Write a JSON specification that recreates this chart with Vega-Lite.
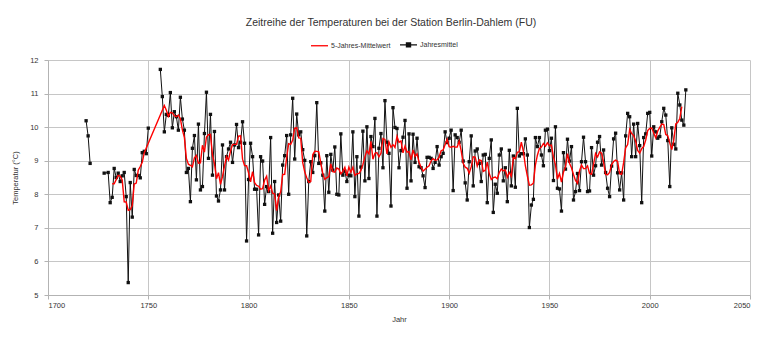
{
  "$schema": "https://vega.github.io/schema/vega-lite/v6.json",
  "autosize": {"type": "none"},
  "width": 702,
  "height": 235,
  "padding": {"left": 48, "top": 60, "right": 18, "bottom": 44},
  "background": "white",
  "title": {
    "text": "Zeitreihe der Temperaturen bei der Station Berlin-Dahlem (FU)",
    "anchor": "middle",
    "dx": -8,
    "offset": 7,
    "fontSize": 10.5,
    "fontWeight": "normal",
    "font": "Liberation Sans",
    "color": "#333333"
  },
  "data": {
    "values": [
      {"year": 1719, "temp": 10.19}, {"year": 1720, "temp": 9.74}, {"year": 1721, "temp": 8.92},
      {"year": 1722, "temp": null}, {"year": 1723, "temp": null}, {"year": 1724, "temp": null},
      {"year": 1725, "temp": null}, {"year": 1726, "temp": null}, {"year": 1727, "temp": null},
      {"year": 1728, "temp": 8.63}, {"year": 1730, "temp": 8.65}, {"year": 1731, "temp": 7.75},
      {"year": 1732, "temp": 7.91}, {"year": 1733, "temp": 8.77}, {"year": 1734, "temp": 8.50},
      {"year": 1735, "temp": 8.63}, {"year": 1736, "temp": 8.38}, {"year": 1737, "temp": 8.55},
      {"year": 1738, "temp": 8.65}, {"year": 1739, "temp": 7.93}, {"year": 1740, "temp": 5.37},
      {"year": 1741, "temp": 8.35}, {"year": 1742, "temp": 7.32}, {"year": 1743, "temp": 8.74},
      {"year": 1744, "temp": 8.56}, {"year": 1745, "temp": 8.56}, {"year": 1746, "temp": 8.49},
      {"year": 1747, "temp": 9.24}, {"year": 1748, "temp": 9.28}, {"year": 1749, "temp": 9.21},
      {"year": 1750, "temp": 9.97},
      {"year": 1751, "temp": null}, {"year": 1752, "temp": null}, {"year": 1753, "temp": null},
      {"year": 1754, "temp": null}, {"year": 1755, "temp": null},
      {"year": 1756, "temp": 11.72}, {"year": 1757, "temp": 10.91}, {"year": 1758, "temp": 9.86},
      {"year": 1759, "temp": 10.38}, {"year": 1760, "temp": 10.35}, {"year": 1761, "temp": 11.03},
      {"year": 1762, "temp": 9.98}, {"year": 1763, "temp": 10.46}, {"year": 1764, "temp": 10.31},
      {"year": 1765, "temp": 9.91}, {"year": 1766, "temp": 10.89}, {"year": 1767, "temp": 10.24},
      {"year": 1768, "temp": 9.91}, {"year": 1769, "temp": 8.65}, {"year": 1770, "temp": 8.77},
      {"year": 1771, "temp": 7.78}, {"year": 1772, "temp": 9.37}, {"year": 1773, "temp": 9.75},
      {"year": 1774, "temp": 8.43}, {"year": 1775, "temp": 10.09}, {"year": 1776, "temp": 8.13},
      {"year": 1777, "temp": 8.23}, {"year": 1778, "temp": 9.81}, {"year": 1779, "temp": 11.04},
      {"year": 1780, "temp": 9.07}, {"year": 1781, "temp": 10.38}, {"year": 1782, "temp": 8.57},
      {"year": 1783, "temp": 9.87}, {"year": 1784, "temp": 7.95}, {"year": 1785, "temp": 7.80},
      {"year": 1786, "temp": 8.13}, {"year": 1787, "temp": 9.47}, {"year": 1788, "temp": 8.13},
      {"year": 1789, "temp": 9.12}, {"year": 1790, "temp": 9.35}, {"year": 1791, "temp": 9.55},
      {"year": 1792, "temp": 8.95}, {"year": 1793, "temp": 9.47}, {"year": 1794, "temp": 10.08},
      {"year": 1795, "temp": 9.39}, {"year": 1796, "temp": 9.55}, {"year": 1797, "temp": 10.16},
      {"year": 1798, "temp": 9.52}, {"year": 1799, "temp": 6.61}, {"year": 1800, "temp": 8.44},
      {"year": 1801, "temp": 9.52}, {"year": 1802, "temp": 9.12}, {"year": 1803, "temp": 8.15},
      {"year": 1804, "temp": 8.15}, {"year": 1805, "temp": 6.79}, {"year": 1806, "temp": 9.12},
      {"year": 1807, "temp": 8.99}, {"year": 1808, "temp": 7.70}, {"year": 1809, "temp": 8.23},
      {"year": 1810, "temp": 8.08}, {"year": 1811, "temp": 9.69}, {"year": 1812, "temp": 6.84},
      {"year": 1813, "temp": 8.38}, {"year": 1814, "temp": 7.16}, {"year": 1815, "temp": 7.98},
      {"year": 1816, "temp": 7.20}, {"year": 1817, "temp": 8.87}, {"year": 1818, "temp": 9.15},
      {"year": 1819, "temp": 9.75}, {"year": 1820, "temp": 8.00}, {"year": 1821, "temp": 9.77},
      {"year": 1822, "temp": 10.86}, {"year": 1823, "temp": 9.05}, {"year": 1824, "temp": 10.39},
      {"year": 1825, "temp": 9.77}, {"year": 1826, "temp": 9.86}, {"year": 1827, "temp": 9.33},
      {"year": 1828, "temp": 9.01}, {"year": 1829, "temp": 6.76}, {"year": 1830, "temp": 8.38},
      {"year": 1831, "temp": 8.97}, {"year": 1832, "temp": 8.65}, {"year": 1833, "temp": 9.15},
      {"year": 1834, "temp": 10.73}, {"year": 1835, "temp": 8.92}, {"year": 1836, "temp": 8.94},
      {"year": 1837, "temp": 8.57}, {"year": 1838, "temp": 7.50}, {"year": 1839, "temp": 9.15},
      {"year": 1840, "temp": 8.06}, {"year": 1841, "temp": 9.19}, {"year": 1842, "temp": 8.72},
      {"year": 1843, "temp": 9.41}, {"year": 1844, "temp": 8.00}, {"year": 1845, "temp": 7.98},
      {"year": 1846, "temp": 9.80}, {"year": 1847, "temp": 8.57}, {"year": 1848, "temp": 8.69},
      {"year": 1849, "temp": 8.38}, {"year": 1850, "temp": 8.57}, {"year": 1851, "temp": 8.55},
      {"year": 1852, "temp": 9.86}, {"year": 1853, "temp": 7.93}, {"year": 1854, "temp": 9.12},
      {"year": 1855, "temp": 7.35}, {"year": 1856, "temp": 8.81}, {"year": 1857, "temp": 9.88},
      {"year": 1858, "temp": 8.40}, {"year": 1859, "temp": 10.01}, {"year": 1860, "temp": 8.47},
      {"year": 1861, "temp": 9.72}, {"year": 1862, "temp": 9.42}, {"year": 1863, "temp": 10.26},
      {"year": 1864, "temp": 7.35}, {"year": 1865, "temp": 9.37}, {"year": 1866, "temp": 9.81},
      {"year": 1867, "temp": 8.79}, {"year": 1868, "temp": 10.79}, {"year": 1869, "temp": 9.55},
      {"year": 1870, "temp": 9.22}, {"year": 1871, "temp": 7.65}, {"year": 1872, "temp": 10.58},
      {"year": 1873, "temp": 9.99}, {"year": 1874, "temp": 9.96}, {"year": 1875, "temp": 8.79},
      {"year": 1876, "temp": 9.30}, {"year": 1877, "temp": 9.70}, {"year": 1878, "temp": 10.20},
      {"year": 1879, "temp": 8.18}, {"year": 1880, "temp": 9.80}, {"year": 1881, "temp": 8.40},
      {"year": 1882, "temp": 9.79}, {"year": 1883, "temp": 8.95}, {"year": 1884, "temp": 9.67},
      {"year": 1885, "temp": 8.82}, {"year": 1886, "temp": 8.79}, {"year": 1887, "temp": 8.55},
      {"year": 1888, "temp": 8.20}, {"year": 1889, "temp": 9.10}, {"year": 1890, "temp": 9.10},
      {"year": 1891, "temp": 9.07}, {"year": 1892, "temp": 8.77}, {"year": 1893, "temp": 8.95},
      {"year": 1894, "temp": 9.42}, {"year": 1895, "temp": 8.87}, {"year": 1896, "temp": 9.12},
      {"year": 1897, "temp": 9.22}, {"year": 1898, "temp": 9.86}, {"year": 1899, "temp": 9.54},
      {"year": 1900, "temp": 9.67}, {"year": 1901, "temp": 9.91}, {"year": 1902, "temp": 8.11},
      {"year": 1903, "temp": 9.77}, {"year": 1904, "temp": 9.69}, {"year": 1905, "temp": 9.55},
      {"year": 1906, "temp": 9.91}, {"year": 1907, "temp": 8.99}, {"year": 1908, "temp": 8.34},
      {"year": 1909, "temp": 7.83}, {"year": 1910, "temp": 8.97}, {"year": 1911, "temp": 9.74},
      {"year": 1912, "temp": 8.25}, {"year": 1913, "temp": 9.29}, {"year": 1914, "temp": 9.35},
      {"year": 1915, "temp": 8.92}, {"year": 1916, "temp": 8.38}, {"year": 1917, "temp": 9.17},
      {"year": 1918, "temp": 9.19}, {"year": 1919, "temp": 7.75}, {"year": 1920, "temp": 9.07},
      {"year": 1921, "temp": 9.62}, {"year": 1922, "temp": 7.46}, {"year": 1923, "temp": 8.30},
      {"year": 1924, "temp": 8.03}, {"year": 1925, "temp": 9.17}, {"year": 1926, "temp": 9.35},
      {"year": 1927, "temp": 8.40}, {"year": 1928, "temp": 8.79}, {"year": 1929, "temp": 7.78},
      {"year": 1930, "temp": 9.31}, {"year": 1931, "temp": 8.25}, {"year": 1932, "temp": 9.14},
      {"year": 1933, "temp": 8.21}, {"year": 1934, "temp": 10.56}, {"year": 1935, "temp": 9.14},
      {"year": 1936, "temp": 9.21}, {"year": 1937, "temp": 9.21}, {"year": 1938, "temp": 9.65},
      {"year": 1939, "temp": 9.17}, {"year": 1940, "temp": 7.01}, {"year": 1941, "temp": 7.68},
      {"year": 1942, "temp": 7.85}, {"year": 1943, "temp": 9.69}, {"year": 1944, "temp": 9.42},
      {"year": 1945, "temp": 9.69}, {"year": 1946, "temp": 9.17}, {"year": 1947, "temp": 8.85},
      {"year": 1948, "temp": 9.91}, {"year": 1949, "temp": 9.94}, {"year": 1950, "temp": 9.30},
      {"year": 1951, "temp": 9.67}, {"year": 1952, "temp": 8.41}, {"year": 1953, "temp": 10.01},
      {"year": 1954, "temp": 8.18}, {"year": 1955, "temp": 8.16}, {"year": 1956, "temp": 7.50},
      {"year": 1957, "temp": 9.24}, {"year": 1958, "temp": 8.75}, {"year": 1959, "temp": 9.64},
      {"year": 1960, "temp": 8.99}, {"year": 1961, "temp": 9.42}, {"year": 1962, "temp": 7.83},
      {"year": 1963, "temp": 8.08}, {"year": 1964, "temp": 8.62}, {"year": 1965, "temp": 8.11},
      {"year": 1966, "temp": 8.97}, {"year": 1967, "temp": 9.70}, {"year": 1968, "temp": 8.97},
      {"year": 1969, "temp": 8.08}, {"year": 1970, "temp": 8.10}, {"year": 1971, "temp": 9.39},
      {"year": 1972, "temp": 8.57}, {"year": 1973, "temp": 8.85}, {"year": 1974, "temp": 9.55},
      {"year": 1975, "temp": 9.72}, {"year": 1976, "temp": 8.87}, {"year": 1977, "temp": 9.32},
      {"year": 1978, "temp": 8.65}, {"year": 1979, "temp": 8.18}, {"year": 1980, "temp": 7.93},
      {"year": 1981, "temp": 8.84}, {"year": 1982, "temp": 9.65}, {"year": 1983, "temp": 9.82},
      {"year": 1984, "temp": 8.64}, {"year": 1985, "temp": 8.13}, {"year": 1986, "temp": 8.64},
      {"year": 1987, "temp": 7.83}, {"year": 1988, "temp": 9.74}, {"year": 1989, "temp": 10.41},
      {"year": 1990, "temp": 10.31}, {"year": 1991, "temp": 9.12}, {"year": 1992, "temp": 10.09},
      {"year": 1993, "temp": 9.12}, {"year": 1994, "temp": 10.11}, {"year": 1995, "temp": 9.45},
      {"year": 1996, "temp": 7.75}, {"year": 1997, "temp": 9.69}, {"year": 1998, "temp": 9.80},
      {"year": 1999, "temp": 10.41}, {"year": 2000, "temp": 10.44}, {"year": 2001, "temp": 9.14},
      {"year": 2002, "temp": 10.01}, {"year": 2003, "temp": 9.86}, {"year": 2004, "temp": 9.67},
      {"year": 2005, "temp": 9.72}, {"year": 2006, "temp": 10.16}, {"year": 2007, "temp": 10.56},
      {"year": 2008, "temp": 10.36}, {"year": 2009, "temp": 9.60}, {"year": 2010, "temp": 8.23},
      {"year": 2011, "temp": 9.98}, {"year": 2012, "temp": 9.49}, {"year": 2013, "temp": 9.35},
      {"year": 2014, "temp": 11.01}, {"year": 2015, "temp": 10.66}, {"year": 2016, "temp": 10.21},
      {"year": 2017, "temp": 10.06}, {"year": 2018, "temp": 11.11}
    ]
  },
  "encoding": {
    "x": {
      "field": "year",
      "type": "quantitative",
      "scale": {"domain": [1700, 2050], "nice": false, "zero": false},
      "axis": {
        "title": "Jahr",
        "values": [1700, 1750, 1800, 1850, 1900, 1950, 2000, 2050],
        "format": "d",
        "labelPadding": 2,
        "titlePadding": 7,
        "labelColor": "#333333",
        "titleColor": "#333333"
      }
    },
    "y": {
      "field": "temp",
      "type": "quantitative",
      "scale": {"domain": [5, 12], "nice": false, "zero": false},
      "axis": {
        "title": "Temperatur (°C)",
        "values": [5, 6, 7, 8, 9, 10, 11, 12],
        "labelPadding": 6,
        "titlePadding": 10,
        "labelColor": "#333333",
        "titleColor": "#333333"
      }
    }
  },
  "layer": [
    {
      "mark": {"type": "line", "strokeWidth": 1, "invalid": "break-paths-filter-domains"},
      "encoding": {
        "color": {
          "datum": "Jahresmittel",
          "type": "nominal",
          "scale": {"domain": ["5-Jahres-Mittelwert", "Jahresmittel"], "range": ["#ff0000", "#111111"]},
          "legend": {
            "encode": {
              "symbols": {
                "update": {
                  "shape": {"signal": "datum.value === 'Jahresmittel' ? 'M-1,0H1M-0.24,-0.24H0.24V0.24H-0.24Z' : 'M-1,0H1'"},
                  "fill": {"signal": "datum.value === 'Jahresmittel' ? '#111111' : 'transparent'"}
                }
              }
            }
          }
        }
      }
    },
    {
      "transform": [{"filter": "isValid(datum.temp)"}],
      "mark": {"type": "square", "size": 11, "opacity": 1, "filled": true},
      "encoding": {
        "color": {"datum": "Jahresmittel", "type": "nominal"}
      }
    },
    {
      "transform": [
        {
          "window": [
            {"op": "mean", "field": "temp", "as": "mittel5"},
            {"op": "valid", "field": "temp", "as": "n"},
            {"op": "min", "field": "year", "as": "von"},
            {"op": "max", "field": "year", "as": "bis"}
          ],
          "sort": [{"field": "year"}],
          "frame": [-2, 2]
        },
        {"filter": "datum.n === 5 && datum.bis - datum.von === 4"}
      ],
      "mark": {"type": "line", "strokeWidth": 1.4},
      "encoding": {
        "y": {"field": "mittel5", "type": "quantitative"},
        "color": {"datum": "5-Jahres-Mittelwert", "type": "nominal"}
      }
    }
  ],
  "resolve": {"scale": {"color": "shared"}},
  "config": {
    "font": "Liberation Sans",
    "view": {"stroke": null},
    "axis": {
      "gridColor": "#c6c6c6",
      "gridWidth": 1,
      "domainColor": "#b3b3b3",
      "tickColor": "#b3b3b3",
      "tickSize": 4,
      "labelFontSize": 7.5,
      "labelColor": "#333333",
      "titleFontSize": 7.5,
      "titleFontWeight": "normal",
      "titleColor": "#333333"
    },
    "legend": {
      "orient": "none",
      "legendX": 262,
      "legendY": -25,
      "direction": "horizontal",
      "title": null,
      "labelFontSize": 7,
      "labelColor": "#333333",
      "symbolSize": 289,
      "symbolStrokeWidth": 1.3,
      "labelOffset": 2,
      "columnPadding": 6
    }
  }
}
